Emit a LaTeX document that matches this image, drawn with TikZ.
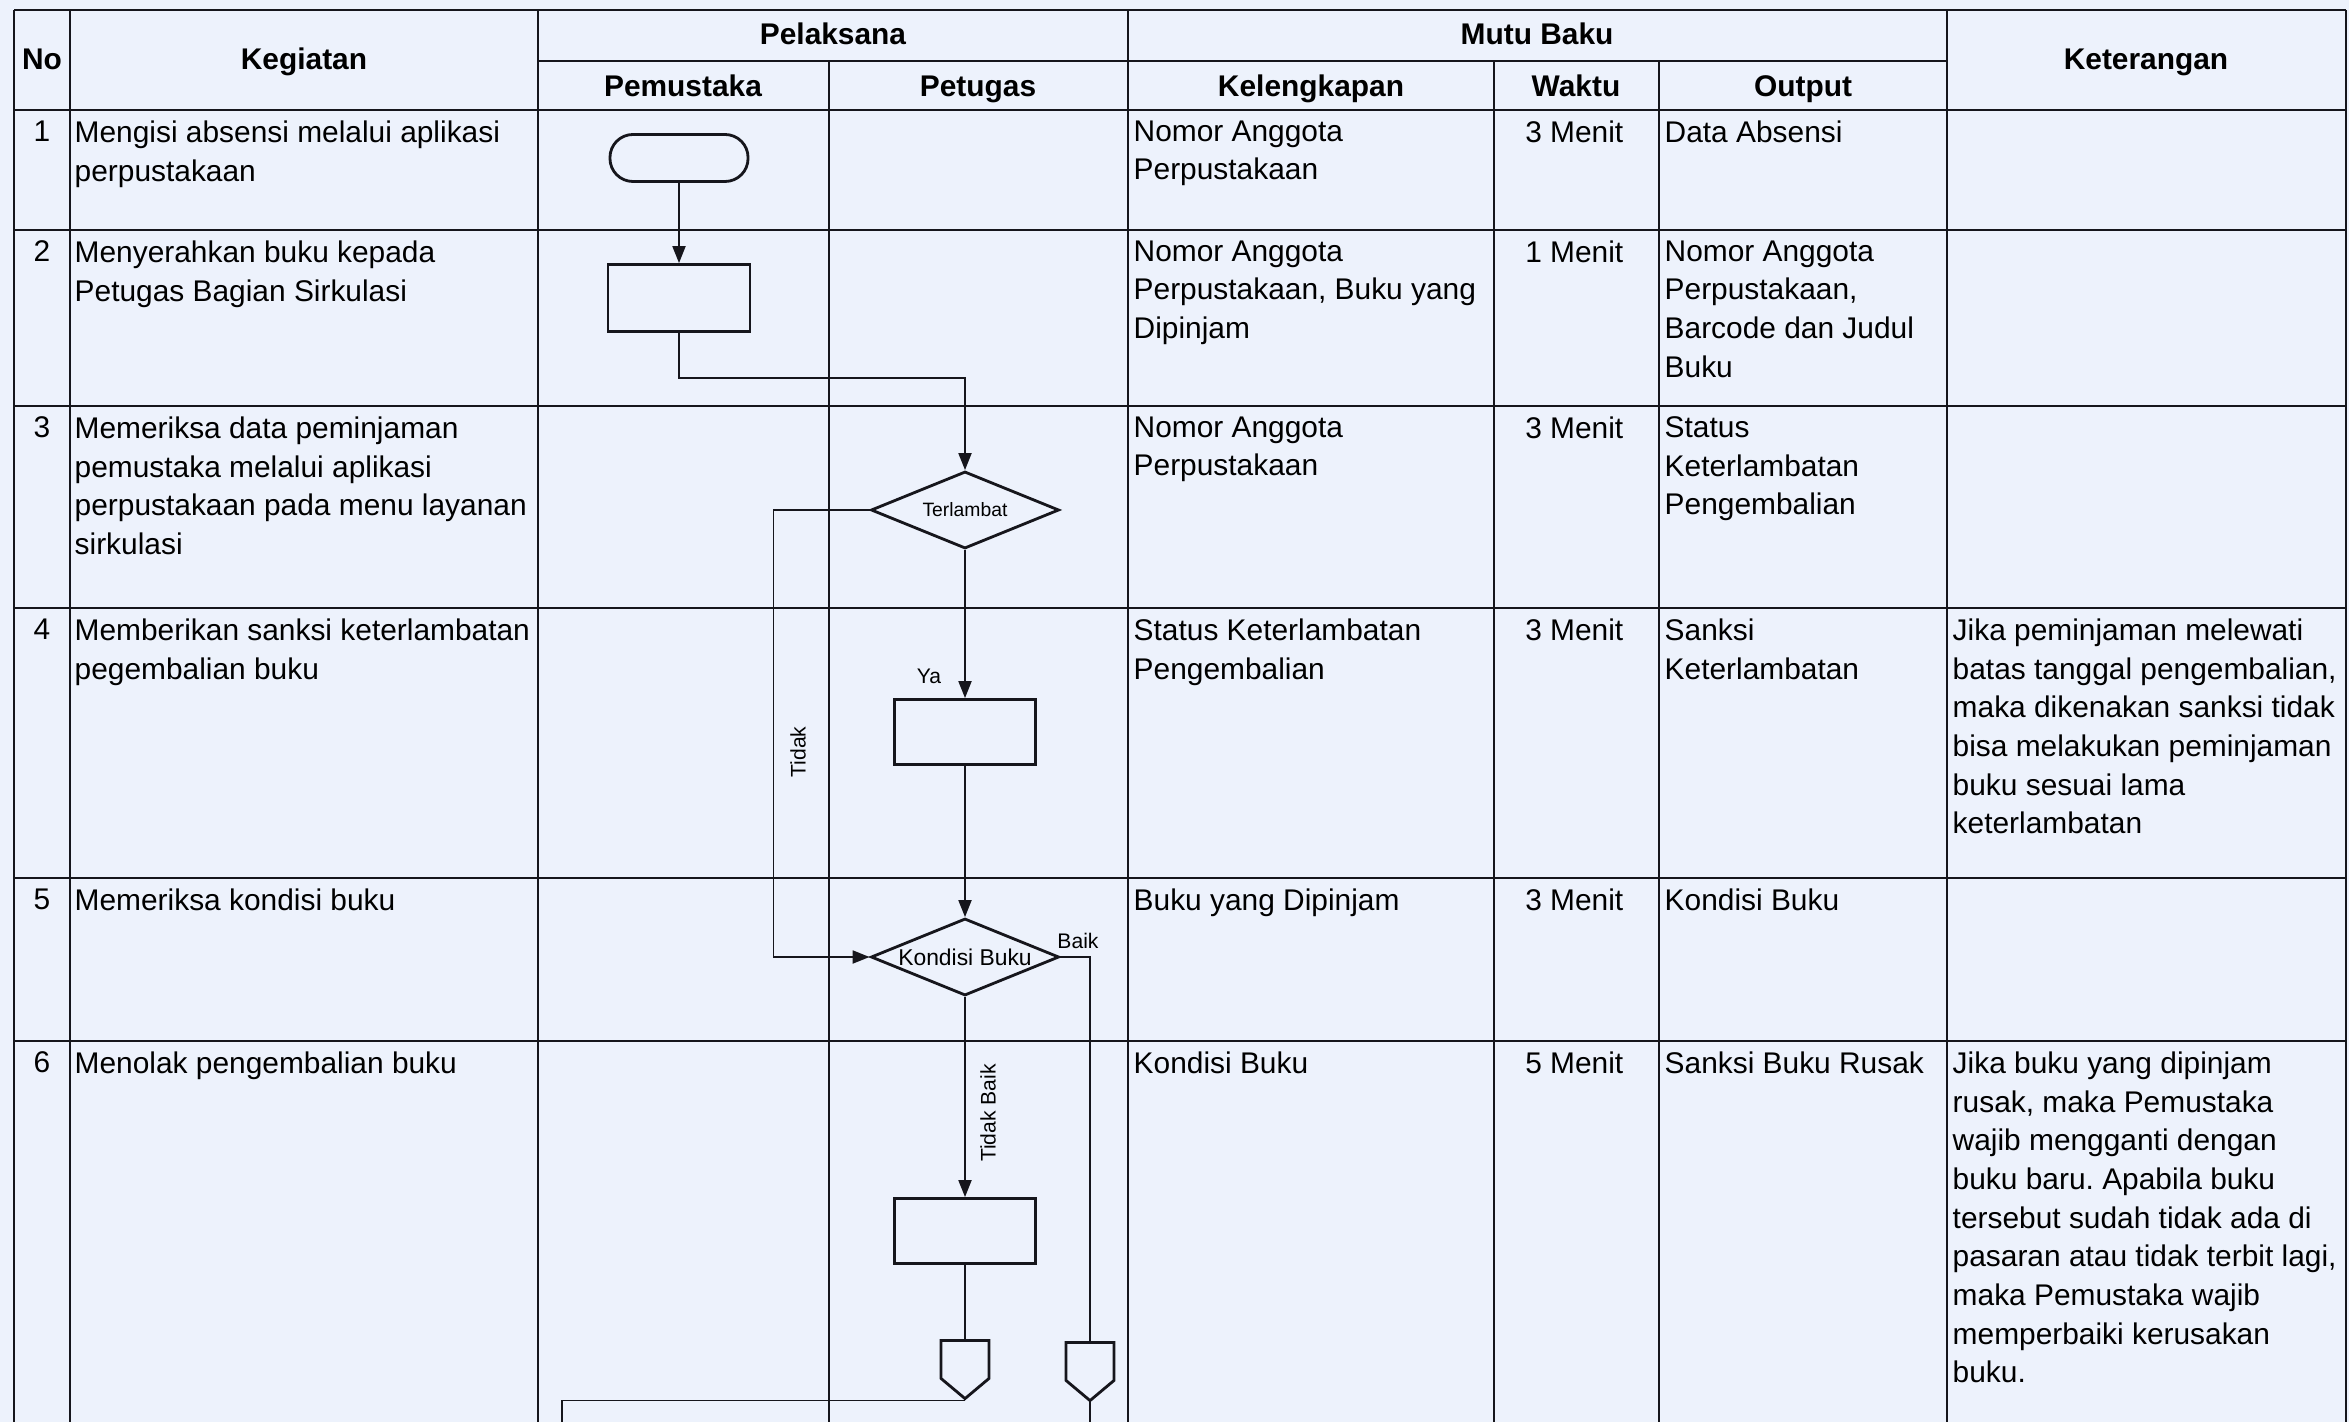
\documentclass[tikz,border=0pt]{standalone}
\usepackage{fontspec}
\setmainfont{Liberation Sans}
\usetikzlibrary{shapes.geometric,shapes.symbols,arrows.meta}
\definecolor{paper}{RGB}{237,242,252}
\definecolor{ink}{RGB}{22,22,28}

\begin{document}
\begin{tikzpicture}[x=0.01cm, y=-0.01cm,
        rule/.style={draw=ink, line width=0.7pt},
        head/.style={anchor=base, inner sep=0, font=\fontsize{8.5}{11}\selectfont\bfseries},
        cell/.style={anchor=north west, align=left, inner sep=0, font=\fontsize{8.5}{11}\selectfont},
        terminal/.style={rectangle, rounded corners=0.23cm, draw=ink, line width=0.8pt, minimum width=1.38cm, minimum height=0.47cm, inner sep=0},
        process/.style={rectangle, draw=ink, line width=0.8pt, minimum width=1.41cm, minimum height=0.65cm, inner sep=0},
        decision/.style={diamond, draw=ink, line width=0.8pt, minimum width=1.88cm, minimum height=0.77cm, aspect=2.4, inner sep=0},
        offpage/.style={signal, signal to=south, signal from=nowhere, signal pointer angle=100, draw=ink, line width=0.8pt, minimum width=0.48cm, minimum height=0.38cm, inner sep=0, anchor=north},
        flow/.style={draw=ink, line width=0.5pt, -{Triangle[length=4.8pt, width=3.7pt]}},
        link/.style={draw=ink, line width=0.5pt},
        lbl/.style={inner sep=0, font=\fontsize{6}{7}\selectfont}
    ]
        % page
        \fill[paper] (0,0) rectangle (2349,1422);
        \useasboundingbox (0,0) rectangle (2349,1422);

        % Table grid
        \foreach \ry in {10,110,230,406,608,878,1041} {
            \draw[rule] (14,\ry) -- (2346,\ry);
        }
        \draw[rule] (538,61) -- (1947,61);
        \foreach \cx in {14,70,538,1128,1947,2346} {
            \draw[rule] (\cx,10) -- (\cx,1422);
        }
        \foreach \cx in {829,1494,1659} {
            \draw[rule] (\cx,61) -- (\cx,1422);
        }

        % Header
        \node[head] (hNo) at (42,70) {No};
        \node[head] (hKeg) at (304,70) {Kegiatan};
        \node[head] (hPel) at (833,45) {Pelaksana};
        \node[head] (hPem) at (683,97) {Pemustaka};
        \node[head] (hPet) at (978,97) {Petugas};
        \node[head] (hMutu) at (1537,45) {Mutu Baku};
        \node[head] (hKel) at (1311,97) {Kelengkapan};
        \node[head] (hWak) at (1576,97) {Waktu};
        \node[head] (hOut) at (1803,97) {Output};
        \node[head] (hKet) at (2146,70) {Keterangan};

        % Row numbers
        \foreach \n/\ry in {1/110, 2/230, 3/406, 4/608, 5/878, 6/1041} {
            \node[cell, anchor=north] (no\n) at (42,\ry+10) {\n};
        }

        % Kegiatan
        \node[cell] (keg1) at (74,120) {Mengisi absensi melalui aplikasi\\perpustakaan};
        \node[cell] (keg2) at (74,240) {Menyerahkan buku kepada\\Petugas Bagian Sirkulasi};
        \node[cell] (keg3) at (74,416) {Memeriksa data peminjaman\\pemustaka melalui aplikasi\\perpustakaan pada menu layanan\\sirkulasi};
        \node[cell] (keg4) at (74,618) {Memberikan sanksi keterlambatan\\pegembalian buku};
        \node[cell] (keg5) at (74,888) {Memeriksa kondisi buku};
        \node[cell] (keg6) at (74,1051) {Menolak pengembalian buku};

        % Mutu Baku
        \node[cell] (kel1) at (1133,120) {Nomor Anggota\\Perpustakaan};
        \node[cell] (kel2) at (1133,240) {Nomor Anggota\\Perpustakaan, Buku yang\\Dipinjam};
        \node[cell] (kel3) at (1133,416) {Nomor Anggota\\Perpustakaan};
        \node[cell] (kel4) at (1133,618) {Status Keterlambatan\\Pengembalian};
        \node[cell] (kel5) at (1133,888) {Buku yang Dipinjam};
        \node[cell] (kel6) at (1133,1051) {Kondisi Buku};

        \node[cell, anchor=north east] (wak1) at (1624,120) {3 Menit};
        \node[cell, anchor=north east] (wak2) at (1624,240) {1 Menit};
        \node[cell, anchor=north east] (wak3) at (1624,416) {3 Menit};
        \node[cell, anchor=north east] (wak4) at (1624,618) {3 Menit};
        \node[cell, anchor=north east] (wak5) at (1624,888) {3 Menit};
        \node[cell, anchor=north east] (wak6) at (1624,1051) {5 Menit};

        \node[cell] (out1) at (1664,120) {Data Absensi};
        \node[cell] (out2) at (1664,240) {Nomor Anggota\\Perpustakaan,\\Barcode dan Judul\\Buku};
        \node[cell] (out3) at (1664,416) {Status\\Keterlambatan\\Pengembalian};
        \node[cell] (out4) at (1664,618) {Sanksi\\Keterlambatan};
        \node[cell] (out5) at (1664,888) {Kondisi Buku};
        \node[cell] (out6) at (1664,1051) {Sanksi Buku Rusak};

        % Keterangan
        \node[cell] (ket4) at (1952,618) {Jika peminjaman melewati\\batas tanggal pengembalian,\\maka dikenakan sanksi tidak\\bisa melakukan peminjaman\\buku sesuai lama\\keterlambatan};
        \node[cell] (ket6) at (1952,1051) {Jika buku yang dipinjam\\rusak, maka Pemustaka\\wajib mengganti dengan\\buku baru.\ Apabila buku\\tersebut sudah tidak ada di\\pasaran atau tidak terbit lagi,\\maka Pemustaka wajib\\memperbaiki kerusakan\\buku.};

        % Flowchart
        \node[terminal] (mulai) at (679,158) {};
        \node[process, minimum width=1.42cm, minimum height=0.67cm] (serah) at (679,298) {};
        \node[decision] (telat) at (965,510) {\fontsize{5.5}{6}\selectfont Terlambat};
        \node[process] (sanksi) at (965,732) {};
        \node[decision] (kondisi) at (965,957) {\fontsize{6.5}{7}\selectfont Kondisi Buku};
        \node[process] (tolak) at (965,1231) {};
        \node[offpage] (keluar1) at (965,1339) {};
        \node[offpage] (keluar2) at (1090,1341) {};
        \coordinate (bawah1) at (562,1422);
        \coordinate (bawah2) at (1090,1422);

        \draw[flow] (mulai) -- (serah);
        \draw[flow] (serah.south) -- ++(0,45) -| (telat.north);
        \draw[flow] (telat.west) -- ++(-96,0) |- (kondisi.west);
        \draw[flow] (telat) -- (sanksi);
        \draw[flow] (sanksi) -- (kondisi);
        \draw[flow] (kondisi) -- (tolak);
        \draw[link] (kondisi.east) -| (keluar2.north);
        \draw[link] (tolak) -- (keluar1);
        \draw[link] (keluar1.south) -| (bawah1);
        \draw[link] (keluar2.south) -- (bawah2);

        % Labels on connectors
        \node[lbl] (ya) at (929,676) {Ya};
        \node[lbl, rotate=90] (tidak) at (798,752) {Tidak};
        \node[lbl] (baik) at (1078,941) {Baik};
        \node[lbl, rotate=90] (tidakBaik) at (988,1113) {Tidak Baik};

    \end{tikzpicture}
\end{document}
